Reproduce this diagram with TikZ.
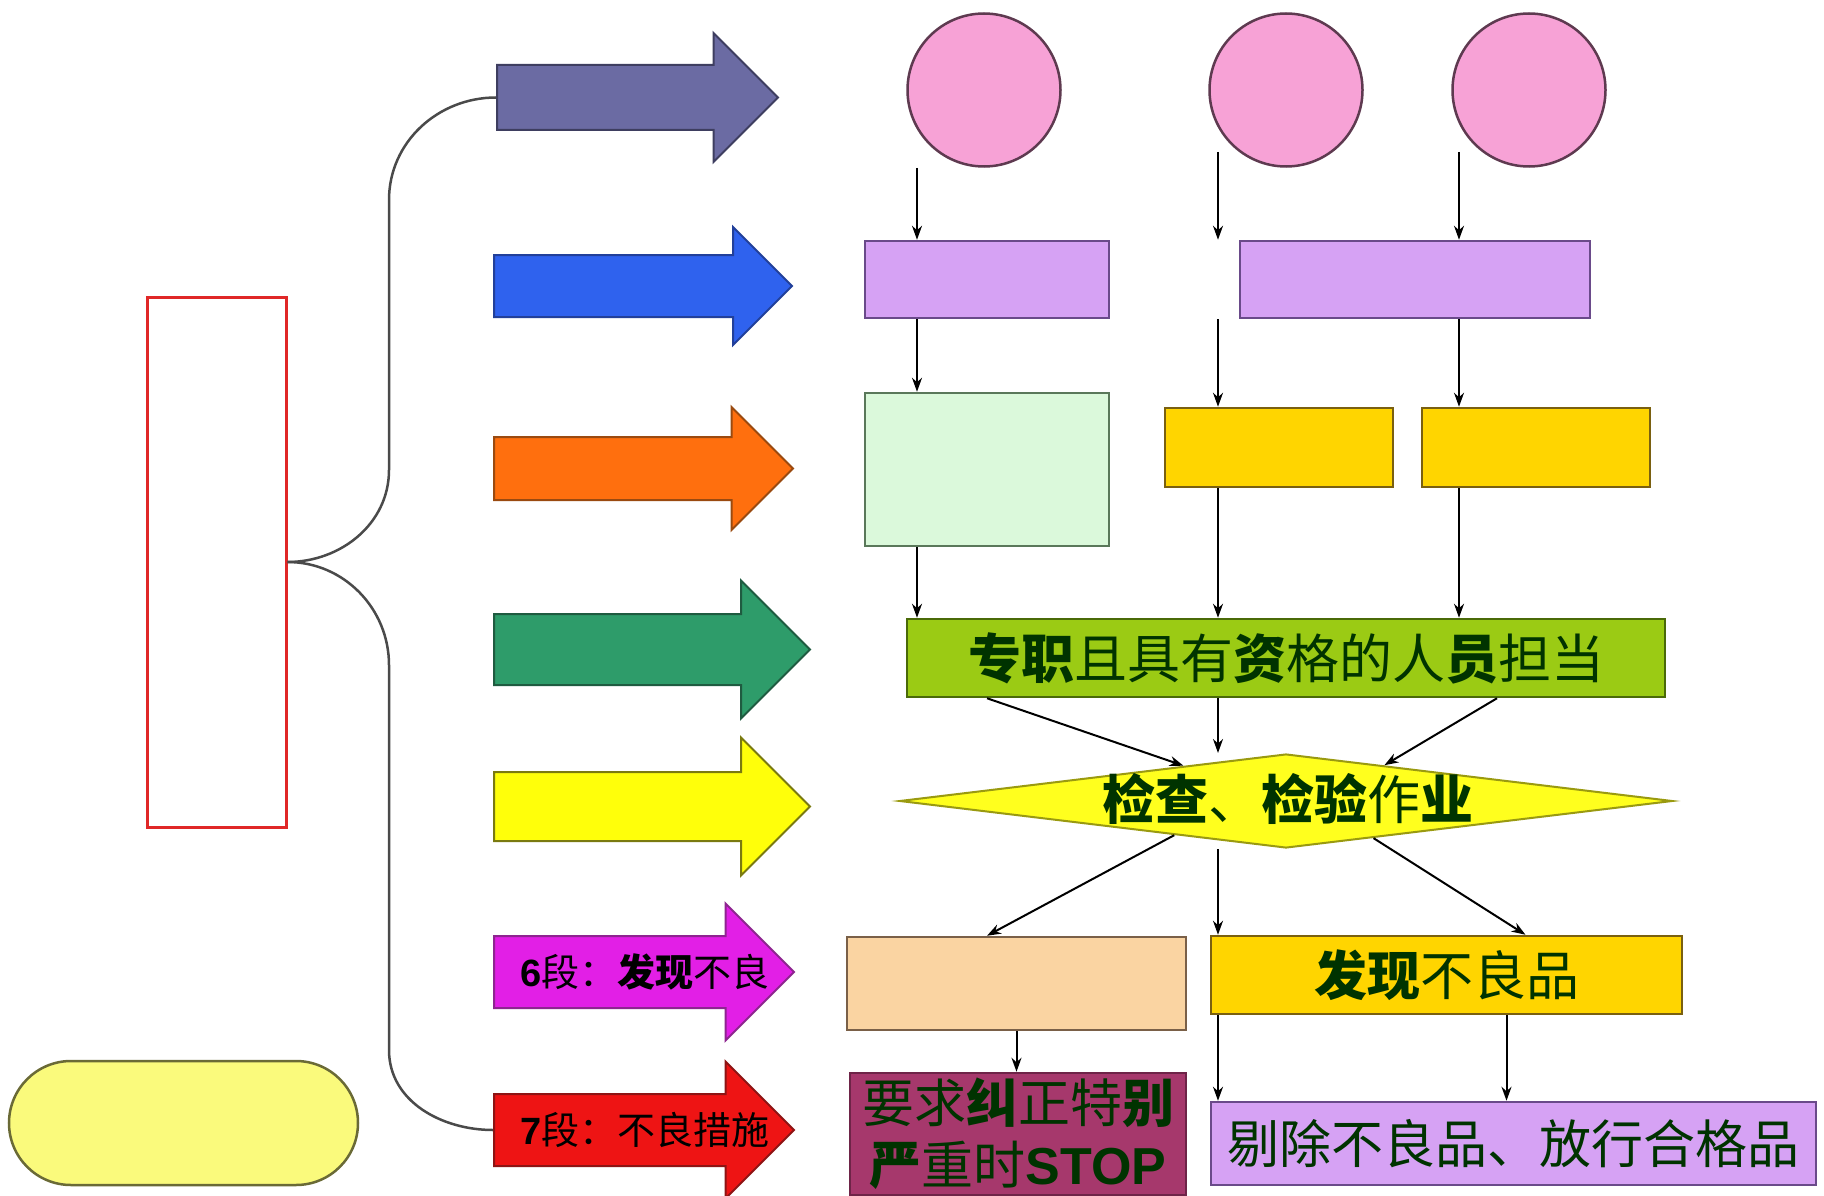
\documentclass[tikz,border=0pt]{standalone}
\usepackage{fontspec}
\setmainfont{Liberation Sans}
\newfontfamily\cjk{Noto Sans CJK SC}
\usetikzlibrary{shapes.arrows,shapes.geometric,arrows.meta}

\definecolor{txtgreen}{HTML}{003300}
\definecolor{bracegray}{HTML}{4A4A4A}
\definecolor{pinkfill}{HTML}{F7A2D6}
\definecolor{pinkline}{HTML}{5E3A50}
\definecolor{lilafill}{HTML}{D6A2F4}
\definecolor{lilaline}{HTML}{6A4A8A}
\definecolor{mintfill}{HTML}{DBF9DB}
\definecolor{mintline}{HTML}{5A785A}
\definecolor{goldfill}{HTML}{FFD500}
\definecolor{goldline}{HTML}{7A6010}
\definecolor{limefill}{HTML}{9BCB14}
\definecolor{limeline}{HTML}{4A6A08}
\definecolor{diafill}{HTML}{FFFF1E}
\definecolor{dialine}{HTML}{9A9A10}
\definecolor{peachfill}{HTML}{FAD4A2}
\definecolor{peachline}{HTML}{7A6048}
\definecolor{weinfill}{HTML}{A6386C}
\definecolor{weinline}{HTML}{6E2448}
\definecolor{pillfill}{HTML}{FAFA7C}
\definecolor{pillline}{HTML}{6A6A36}

\begin{document}
\begin{tikzpicture}[
       x=1pt, y=-1pt,
       fleche/.style={
         single arrow,
         draw,
         line width=2pt,
         anchor=tail,
         inner xsep=0pt,
         single arrow head indent=0pt
       },
       boite/.style={
         rectangle,
         draw,
         line width=2.5pt,
         inner sep=0pt
       },
       rond/.style={
         circle,
         draw=pinkline,
         fill=pinkfill,
         line width=2.5pt,
         inner sep=0pt,
         minimum size=153pt
       },
       lien/.style={
         -{Stealth[length=14pt,width=10pt]},
         line width=2pt
       },
       klammer/.style={
         draw=bracegray,
         line width=2.5pt
       },
       texte/.style={
         text=txtgreen,
         font=\cjk\fontsize{53}{62}\selectfont
       }
     ]

       \useasboundingbox (0,0) rectangle (1824,1196);
       \fill[white] (0,0) rectangle (1824,1196);

       % left side
       \node (r) at (216.5,562) [boite, draw={rgb,255:red,224;green,40;blue,40}, line width=3pt, fill=white, minimum width=139pt, minimum height=530pt]{};
       \node (p) at (183.5,1123) [boite, draw=pillline, fill=pillfill, rounded corners=62pt, minimum width=349pt, minimum height=124pt]{};

       % block arrows
       \node (a1) at (496,97.5) [fleche, draw={rgb,255:red,62;green,62;blue,96}, fill={rgb,255:red,107;green,107;blue,163}, inner ysep=31.5pt, single arrow head extend=32pt, minimum height=281pt]{};
       \node (a2) at (493,286) [fleche, draw={rgb,255:red,34;green,64;blue,154}, fill={rgb,255:red,47;green,98;blue,238}, inner ysep=30pt, single arrow head extend=28pt, minimum height=298pt]{};
       \node (a3) at (493,468.5) [fleche, draw={rgb,255:red,154;green,74;blue,16}, fill={rgb,255:red,255;green,111;blue,14}, inner ysep=30.5pt, single arrow head extend=30pt, minimum height=299pt]{};
       \node (a4) at (493,649.5) [fleche, draw={rgb,255:red,31;green,91;blue,64}, fill={rgb,255:red,46;green,156;blue,106}, inner ysep=34.5pt, single arrow head extend=33.5pt, minimum height=316pt]{};
       \node (a5) at (493,806.5) [fleche, draw={rgb,255:red,122;green,122;blue,16}, fill={rgb,255:red,255;green,255;blue,10}, inner ysep=33.5pt, single arrow head extend=34.5pt, minimum height=316pt]{};
       \node (a6) at (493,972) [fleche, draw={rgb,255:red,142;green,37;blue,144}, fill={rgb,255:red,226;green,31;blue,230}, inner ysep=35pt, single arrow head extend=32.5pt, minimum height=300pt]{};
       \node (a7) at (493,1130) [fleche, draw={rgb,255:red,142;green,20;blue,20}, fill={rgb,255:red,238;green,20;blue,20}, inner ysep=35pt, single arrow head extend=32.5pt, minimum height=300pt]{};

       \node (t6) at (645,972) [font=\fontsize{38}{44}\selectfont]{\textbf{6}{\cjk 段：\textbf{发现}不良}};
       \node (t7) at (645,1130) [font=\fontsize{38}{44}\selectfont]{\textbf{7}{\cjk 段：不良措施}};

       % brace
       \draw[klammer] (a1.tail) to[out=180,in=90] (389,200) -- (389,470) to[out=-90,in=0] (r.east);
       \draw[klammer] (r.east) to[out=0,in=90] (389,665) -- (389,1050) to[out=-90,in=180] (a7.tail);

       % flow chart
       \node (c1) at (984,90) [rond]{};
       \node (c2) at (1286,90) [rond]{};
       \node (c3) at (1529,90) [rond]{};

       \coordinate (k1) at (917,168);
       \coordinate (k2) at (1218,152);
       \coordinate (k3) at (1459,152);

       \node (b1) at (987,279.5) [boite, draw=lilaline, fill=lilafill, minimum width=244pt, minimum height=77pt]{};
       \node (b2) at (1415,279.5) [boite, draw=lilaline, fill=lilafill, minimum width=350pt, minimum height=77pt]{};
       \node (b3) at (987,469.5) [boite, draw=mintline, fill=mintfill, minimum width=244pt, minimum height=153pt]{};
       \node (b4) at (1279,447.5) [boite, draw=goldline, fill=goldfill, minimum width=228pt, minimum height=79pt]{};
       \node (b5) at (1536,447.5) [boite, draw=goldline, fill=goldfill, minimum width=228pt, minimum height=79pt]{};
       \node (b6) at (1286,658) [boite, draw=limeline, fill=limefill, minimum width=758pt, minimum height=78pt, texte]{\textbf{专职}且具有\textbf{资}格的人\textbf{员}担当};

       \node (d) at (1286,801) [diamond, draw=dialine, fill=diafill, line width=2pt, inner sep=0pt, minimum width=773pt, minimum height=94pt]{};
       \node (td) at (1288,799) [texte]{\textbf{检查}、\textbf{检验}作\textbf{业}};

       \node (b7) at (1016.5,983.5) [boite, draw=peachline, fill=peachfill, minimum width=339pt, minimum height=93pt]{};
       \node (b8) at (1018,1134) [boite, draw=weinline, fill=weinfill, minimum width=336pt, minimum height=122pt, align=center, texte, font=\cjk\fontsize{52}{62}\selectfont]{要求\textbf{纠}正特\textbf{别}\\\textbf{严}重时\textbf{\rmfamily STOP}};
       \node (b9) at (1446.5,975) [boite, draw=goldline, fill=goldfill, minimum width=471pt, minimum height=78pt, texte]{\textbf{发现}不良品};
       \node (b10) at (1513.5,1143.5) [boite, draw=lilaline, fill=lilafill, minimum width=605pt, minimum height=83pt, texte, font=\cjk\fontsize{52}{62}\selectfont]{剔除不良品、放行合格品};

       \draw[lien] (k1) -- (b1.north -| k1);
       \draw[lien] (k2) -- (k2 |- b2.north);
       \draw[lien] (k3) -- (b2.north -| k3);

       \draw[lien] (b1.south -| k1) -- (b3.north -| k1);
       \draw[lien] (k2 |- b2.south) -- (b4.north -| k2);
       \draw[lien] (b2.south -| k3) -- (b5.north -| k3);

       \draw[lien] (b3.south -| k1) -- (b6.north -| k1);
       \draw[lien] (b4.south -| k2) -- (b6.north -| k2);
       \draw[lien] (b5.south -| k3) -- (b6.north -| k3);

       \draw[lien] (b6.south -| b3) -- (d.161);
       \draw[lien] (b6.south -| k2) -- (k2 |- d.north);
       \draw[lien] ([xshift=211pt]b6.south) -- (d.20);

       \draw[lien] (d.197) -- (b7.north -| b3);
       \draw[lien] (k2 |- d.south) -- (b9.north -| k2);
       \draw[lien] (d.-23) -- (b9.27);

       \draw[lien] (b7.south) -- (b7.south |- b8.north);
       \draw[lien] (k2 |- b9.south) -- (b10.north -| k2);
       \draw[lien] ([xshift=60pt]b9.south) -- ([xshift=60pt]b9.south |- b10.north);

\end{tikzpicture}
\end{document}
